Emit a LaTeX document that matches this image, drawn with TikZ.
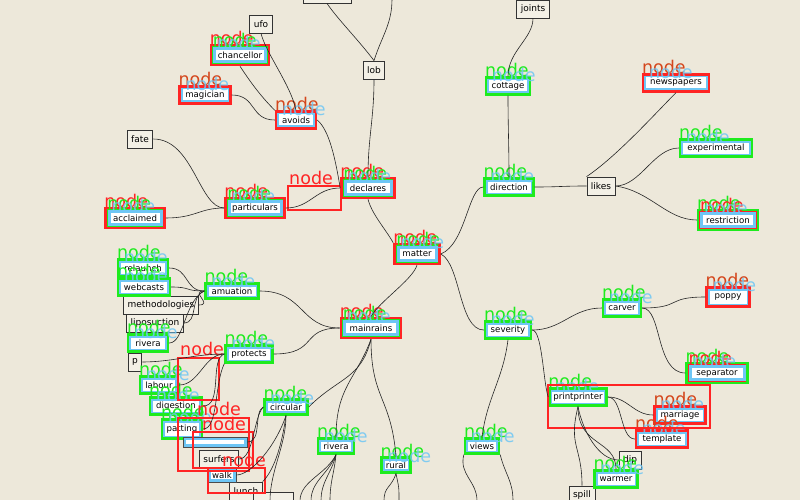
\documentclass[tikz,border=0pt]{standalone}
\usepackage{fontspec}
\setmainfont{DejaVu Sans}
\definecolor{paper}{HTML}{EDE8DA}
\definecolor{boxfill}{HTML}{F3F0E6}
\definecolor{tgreen}{HTML}{1EEB1E}
\definecolor{tred}{HTML}{FF2424}
\definecolor{tdark}{HTML}{D4461C}
\definecolor{tblue}{HTML}{6EC6F5}
\begin{document}
\begin{tikzpicture}[x=1pt, y=-1pt,
    every node/.style={font=\fontsize{8.6}{9}\selectfont},
    plain/.style={draw=black!80, line width=0.8pt, fill=boxfill, font=\fontsize{9}{10}\selectfont, inner xsep=4pt, inner ysep=3pt, minimum height=18pt},
    hl/.style={fill=white, inner xsep=4pt, inner ysep=4pt, minimum height=17pt,
        path picture={\draw[tblue, line width=6pt] (path picture bounding box.south west) rectangle (path picture bounding box.north east);}},
    ntag/.style={font=\fontsize{17.5}{17}\selectfont, inner sep=0pt, anchor=south west},
    bluetag/.style={ntag, text=tblue, opacity=0.85, xshift=7pt, yshift=-6pt},
    bbox/.style={hl, draw=black!70, line width=0.8pt},
    gbox/.style={hl, draw=tgreen, line width=2.4pt,
        label={[ntag, text=tgreen, yshift=-1pt]north west:node},
        label={[bluetag]north west:node}},
    rbox/.style={hl, draw=tred, line width=2.4pt,
        label={[ntag, text=tdark, yshift=-1pt]north west:node},
        label={[bluetag]north west:node}},
    rgbox/.style={fill=white, draw=tred, line width=2.6pt, inner xsep=5pt, inner ysep=6pt, minimum height=20pt,
        path picture={\draw[tblue, line width=10pt] (path picture bounding box.south west) rectangle (path picture bounding box.north east);
                      \draw[tgreen, line width=4pt] (path picture bounding box.south west) rectangle (path picture bounding box.north east);},
        label={[ntag, text=tred, yshift=-1pt]north west:node},
        label={[ntag, text=tgreen, xshift=3pt, yshift=-3pt]north west:node},
        label={[bluetag]north west:node}},
    grbox/.style={fill=white, draw=tgreen, line width=2.4pt, inner xsep=5pt, inner ysep=6pt, minimum height=20pt,
        path picture={\draw[tblue, line width=10pt] (path picture bounding box.south west) rectangle (path picture bounding box.north east);
                      \draw[tred, line width=4pt] (path picture bounding box.south west) rectangle (path picture bounding box.north east);},
        label={[ntag, text=tgreen, yshift=-1pt]north west:node},
        label={[ntag, text=tred, xshift=3pt, yshift=-3pt]north west:node},
        label={[bluetag]north west:node}},
    edge/.style={black!85, line width=0.6pt},
    rframe/.style={draw=tred, line width=2.2pt}
]
\useasboundingbox (0,0) rectangle (800,500);
\clip (0,0) rectangle (800,500);
\fill[paper] (0,0) rectangle (800,500);

% plain boxes
\node[plain, minimum width=48pt] (topbox) at (327,-6) {};
\node[plain] (ufo) at (261,24) {ufo};
\node[plain] (lob) at (374,70) {lob};
\node[plain] (joints) at (533,9) {joints};
\node[plain] (fate) at (140,139) {fate};
\node[plain] (likes) at (601,186) {likes};
\node[plain] (methodologies) at (161,305) {methodologies};
\node[plain] (liposuction) at (155,323) {liposuction};
\node[plain] (p) at (135,362) {p};
\node[plain] (surfers) at (219,459) {surfers};
\node[plain] (lunch) at (246,491) {lunch};
\node[plain, minimum width=40pt] (lunchnext) at (273,501) {};
\node[plain] (dip) at (630,460) {dip};
\node[plain] (spill) at (582,495) {spill};

% top left branch
\node[rgbox, minimum width=58pt] (chancellor) at (240,55) {chancellor};
\node[rbox, minimum width=51pt] (magician) at (205,95) {magician};
\node[rbox, minimum width=40pt] (avoids) at (296,120) {avoids};
\node[rgbox, minimum width=53pt] (declares) at (368,188) {declares};
\node[rgbox, minimum width=59pt, minimum height=17pt] (particulars) at (255,208) {particulars};
\node[rgbox, minimum width=59pt] (acclaimed) at (135,218) {acclaimed};
\node[rgbox, minimum width=45pt] (matter) at (417,254) {matter};

% top right branch
\node[gbox, minimum width=44pt] (cottage) at (508,86) {cottage};
\node[gbox, minimum width=49pt] (direction) at (509,187) {direction};
\node[rbox, minimum width=66pt] (newspapers) at (676,83) {newspapers};
\node[gbox, minimum width=72pt] (experimental) at (716,148) {experimental};
\node[grbox, minimum width=60pt] (restriction) at (728,220) {restriction};

% bottom right branch
\node[gbox, minimum width=46pt] (severity) at (508,330) {severity};
\node[gbox, minimum width=38pt] (carver) at (622,308) {carver};
\node[rbox, minimum width=43pt, minimum height=19pt] (poppy) at (728,297) {poppy};
\node[grbox, minimum width=61pt] (separator) at (717,373) {separator};
\node[gbox, minimum width=56pt] (printprinter) at (578,397) {printprinter};
\node[rbox, minimum width=51pt] (marriage) at (680,415) {marriage};
\node[rbox, minimum width=52pt] (template) at (662,439) {template};
\node[gbox, minimum width=43pt] (warmer) at (616,479) {warmer};
\node[gbox, minimum width=34pt, minimum height=15pt] (views) at (482,446) {views};

% bottom left branch
\node[rgbox, minimum width=60pt] (mainrains) at (371,328) {mainrains};
\node[gbox, minimum width=53pt, minimum height=15pt] (amuation) at (232,291) {amuation};
\node[gbox, minimum width=47pt] (protects) at (249,354) {protects};
\node[gbox, minimum width=43pt, minimum height=14pt] (circular) at (286,407) {circular};
\node[gbox, minimum width=36pt, minimum height=15pt] (rivera) at (336,446) {rivera};
\node[gbox, minimum width=29pt, minimum height=14pt] (rural) at (396,465) {rural};
\node[gbox, minimum width=50pt] (relaunch) at (143,268) {relaunch};
\node[gbox, minimum width=52pt] (webcasts) at (144,287) {webcasts};
\node[gbox, minimum width=40pt] (riveraleft) at (148,343) {rivera};
\node[gbox, minimum width=38pt] (labour) at (159,385) {labour};
\node[gbox, minimum width=52pt] (digestion) at (176,406) {digestion};
\node[gbox, minimum width=40pt, minimum height=19pt] (patting) at (182,429) {patting};
\node[bbox, minimum width=64pt, minimum height=10pt, inner ysep=1pt] (hidden) at (215,442) {};
\node[bbox, minimum width=28pt, minimum height=14pt] (walk) at (222,475) {walk};

% loose frames
\draw[rframe] (288,186) rectangle (341,210);
\node[ntag, text=tred] (tagdeclares) at (289,185) {node};
\draw[rframe] (178,358) rectangle (219,400);
\node[ntag, text=tred] (taglabour) at (180,356) {node};
\draw[rframe] (178,418) rectangle (249,471);
\node[ntag, text=tred] (tagpatting) at (197,416) {node};
\draw[rframe] (193,432) rectangle (253,468);
\node[ntag, text=tred] (tagsurfers) at (202,431) {node};
\draw[rframe] (208,468) rectangle (265,493);
\node[ntag, text=tred] (tagwalk) at (222,467) {node};
\draw[rframe] (548,385) rectangle (710,428);

% coordinates off the page
\coordinate (lobup) at (392,-1);
\coordinate (viewsa) at (477,501);
\coordinate (viewsb) at (513,501);
\coordinate (riveraa) at (300,501);
\coordinate (riverab) at (311,501);
\coordinate (riverac) at (321,501);
\coordinate (riverad) at (330,501);
\coordinate (rurala) at (384,501);
\coordinate (ruralb) at (399,501);
\coordinate (circulara) at (270,501);

% connectors
\draw[edge] (declares.south) .. controls +(4,15) and +(-8,-14) .. (matter.north west);
\draw[edge] (matter.east) .. controls +(25,-10) and +(-15,0) .. (direction.west);
\draw[edge] (matter.east) .. controls +(20,10) and +(-25,0) .. (severity.west);
\draw[edge] (matter.south) .. controls +(-5,15) and +(8,-15) .. (mainrains.north);
\draw[edge] (declares.north) .. controls +(0,-40) and +(0,40) .. (lob.south);
\draw[edge] (lob.north) .. controls +(-15,-20) and +(10,15) .. (topbox.south);
\draw[edge] (lob.north) .. controls +(8,-25) and +(0,25) .. (lobup);
\draw[edge] (avoids.east) .. controls +(12,10) and +(-5,-30) .. (declares.west);
\draw[edge] (particulars.east) .. controls +(25,0) and +(-25,0) .. (declares.west);
\draw[edge] (chancellor.south) .. controls +(10,15) and +(-15,-15) .. (avoids.north west);
\draw[edge] (ufo.south) .. controls +(5,20) and +(-5,-25) .. (avoids.north);
\draw[edge] (magician.east) .. controls +(25,0) and +(-25,0) .. (avoids.west);
\draw[edge] (fate.east) .. controls +(40,0) and +(-25,0) .. (particulars.west);
\draw[edge] (acclaimed.east) .. controls +(30,0) and +(-25,0) .. (particulars.west);
\draw[edge] (direction.north) .. controls +(0,-30) and +(0,30) .. (cottage.south);
\draw[edge] (cottage.north) .. controls +(0,-25) and +(0,20) .. (joints.south);
\draw[edge] (direction.east) .. controls +(25,0) and +(-25,0) .. (likes.west);
\draw[edge] (likes.north west) .. controls +(30,-20) and +(-20,20) .. (newspapers.south);
\draw[edge] (likes.east) .. controls +(25,0) and +(-25,0) .. (experimental.west);
\draw[edge] (likes.east) .. controls +(35,5) and +(-30,0) .. (restriction.west);
\draw[edge] (severity.east) .. controls +(30,0) and +(-30,0) .. (carver.west);
\draw[edge] (severity.east) .. controls +(10,0) and +(-5,-15) .. (printprinter.west);
\draw[edge] (severity.south) .. controls +(-5,40) and +(5,-40) .. (views.north);
\draw[edge] (carver.east) .. controls +(40,0) and +(-40,0) .. (poppy.west);
\draw[edge] (carver.east) .. controls +(20,0) and +(-30,0) .. (separator.west);
\draw[edge] (printprinter.east) .. controls +(20,0) and +(-20,0) .. (marriage.west);
\draw[edge] (printprinter.east) .. controls +(15,0) and +(-15,0) .. (template.west);
\draw[edge] (printprinter.south) .. controls +(5,25) and +(-20,0) .. (dip.west);
\draw[edge] (printprinter.south) .. controls +(0,40) and +(0,-30) .. (warmer.north);
\draw[edge] (printprinter.south) .. controls +(-10,40) and +(0,-40) .. (spill.north);
\draw[edge] (views.south west) .. controls +(-5,20) and +(0,-20) .. (viewsa);
\draw[edge] (views.south east) .. controls +(5,20) and +(0,-20) .. (viewsb);
\draw[edge] (amuation.east) .. controls +(45,0) and +(-40,0) .. (mainrains.west);
\draw[edge] (protects.east) .. controls +(45,0) and +(-40,0) .. (mainrains.west);
\draw[edge] (circular.east) .. controls +(30,-30) and +(-10,40) .. (mainrains.south);
\draw[edge] (mainrains.south) .. controls +(-15,40) and +(0,-50) .. (rivera.north);
\draw[edge] (mainrains.south) .. controls +(0,60) and +(-5,-60) .. (rural.north);
\draw[edge] (amuation.west) .. controls +(-20,0) and +(20,0) .. (relaunch.east);
\draw[edge] (amuation.west) .. controls +(-20,0) and +(20,0) .. (webcasts.east);
\draw[edge] (amuation.west) .. controls +(-15,0) and +(15,0) .. (methodologies.east);
\draw[edge] (amuation.west) .. controls +(-15,5) and +(15,0) .. (liposuction.east);
\draw[edge] (amuation.west) .. controls +(-20,10) and +(15,0) .. (riveraleft.east);
\draw[edge] (protects.west) .. controls +(-30,0) and +(30,0) .. (p.east);
\draw[edge] (protects.west) .. controls +(-20,0) and +(20,0) .. (labour.east);
\draw[edge] (protects.west) .. controls +(-15,5) and +(20,0) .. (digestion.east);
\draw[edge] (protects.south west) .. controls +(-10,20) and +(15,0) .. (patting.east);
\draw[edge] (circular.west) .. controls +(-10,5) and +(15,0) .. (hidden.east);
\draw[edge] (circular.west) .. controls +(-10,10) and +(15,0) .. (surfers.east);
\draw[edge] (circular.south) .. controls +(-10,30) and +(15,0) .. (walk.east);
\draw[edge] (circular.south) .. controls +(-5,35) and +(10,-10) .. (lunch.north east);
\draw[edge] (circular.south) .. controls +(0,30) and +(0,-30) .. (circulara);
\draw[edge] (rivera.south) .. controls +(-10,20) and +(0,-20) .. (riveraa);
\draw[edge] (rivera.south) .. controls +(-8,20) and +(0,-20) .. (riverab);
\draw[edge] (rivera.south) .. controls +(-5,20) and +(0,-20) .. (riverac);
\draw[edge] (rivera.south) .. controls +(-2,20) and +(0,-20) .. (riverad);
\draw[edge] (rural.south) .. controls +(-5,15) and +(0,-15) .. (rurala);
\draw[edge] (rural.south) .. controls +(3,15) and +(0,-15) .. (ruralb);
\end{tikzpicture}
\end{document}
